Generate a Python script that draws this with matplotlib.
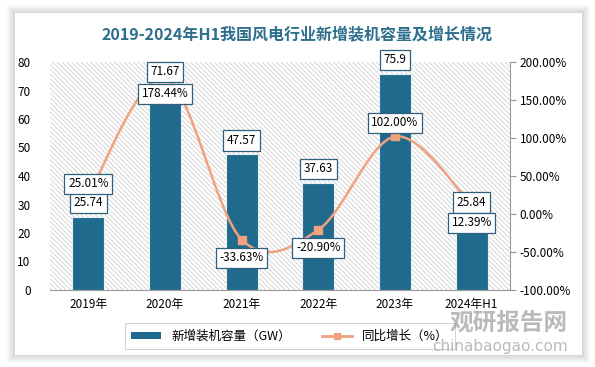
import numpy as np
import matplotlib.pyplot as plt
from matplotlib.patches import Rectangle, PathPatch
from matplotlib.path import Path
from matplotlib.lines import Line2D

#-------------------------------------------------------------------------------
# DATA
years    = ["2019年", "2020年", "2021年", "2022年", "2023年", "2024年H1"]
capacity = [25.74, 71.67, 47.57, 37.63, 75.9, 25.84]          # GW
growth   = [25.01, 178.44, -33.63, -20.90, 102.00, 12.39]     # %
cap_text = ["25.74", "71.67", "47.57", "37.63", "75.9", "25.84"]
#-------------------------------------------------------------------------------

plt.rcParams['font.family'] = ['Noto Sans CJK SC', 'DejaVu Sans']
plt.rcParams['hatch.color'] = '#cfcfcf'
plt.rcParams['hatch.linewidth'] = 0.6

bar_col  = '#1f6a8d'
line_col = '#f0a27f'
box_col  = '#2f5f7c'
title_col = '#2c6e8c'

fig = plt.figure(figsize=(5.95, 3.67), dpi=100)
fig.patch.set_facecolor('white')

# card with soft shadow
W, H = 595., 367.
for i in range(8, 0, -1):
    fig.patches.append(Rectangle(((15 - i) / W, (12 - i) / H), (567 + 2 * i) / W, (342 + 2 * i) / H,
                                 transform=fig.transFigure, facecolor='#000000',
                                 alpha=0.018, edgecolor='none', zorder=-10))
fig.patches.append(Rectangle((15 / W, 12 / H), 567 / W, 342 / H, transform=fig.transFigure,
                             facecolor='white', edgecolor='none', zorder=-9))

ax = fig.add_axes([50 / W, 77 / H, 460 / W, 228 / H])
ax2 = ax.twinx()

x = np.arange(len(years))
ax.add_patch(Rectangle((0, 0), 1, 1, transform=ax.transAxes, fill=False,
                       hatch='\\\\\\\\\\\\\\', edgecolor='#cfcfcf', linewidth=0, zorder=0))
ax.bar(x, capacity, width=0.42, color=bar_col, edgecolor='#e8eef2', linewidth=0.8, zorder=2)
ax.set_xlim(-0.5, len(years) - 0.5)
ax.set_ylim(0, 80)
ax.set_yticks(range(0, 81, 10))
ax.set_xticks(x)
ax.set_xticklabels(years, fontsize=8.5)
ax.tick_params(axis='x', length=0, pad=6)
ax.tick_params(axis='y', length=0, pad=14, labelsize=8.5)
for s in ['top', 'left', 'right']:
    ax.spines[s].set_visible(False)
ax.spines['bottom'].set_color('#9a9a9a')

# smooth line (Catmull-Rom -> bezier) for growth
ax2.set_ylim(-100, 200)
ax2.set_yticks(range(-100, 201, 50))
ax2.set_yticklabels(["%.2f%%" % v for v in range(-100, 201, 50)], fontsize=8.5)
ax2.tick_params(axis='y', length=4, color='#9a9a9a', pad=3)
for s in ['top', 'left', 'bottom']:
    ax2.spines[s].set_visible(False)
ax2.spines['right'].set_color('#9a9a9a')

pts = np.column_stack([x, growth]).astype(float)
verts = [pts[0]]
codes = [Path.MOVETO]
for i in range(len(pts) - 1):
    p0 = pts[max(i - 1, 0)]
    p1 = pts[i]
    p2 = pts[i + 1]
    p3 = pts[min(i + 2, len(pts) - 1)]
    verts += [p1 + (p2 - p0) / 6, p2 - (p3 - p1) / 6, p2]
    codes += [Path.CURVE4] * 3
ax2.add_patch(PathPatch(Path(verts, codes), facecolor='none', edgecolor=line_col,
                        linewidth=1.8, zorder=3))
ax2.plot(x, growth, linestyle='none', marker='s', markersize=5.5, color=line_col, zorder=4)

bbox = dict(boxstyle='square,pad=0.3', facecolor='white', edgecolor=box_col, linewidth=0.9)
for xi, v, t in zip(x, capacity, cap_text):
    ax2.annotate(t, (xi, v), xycoords=ax.transData, xytext=(0, 10), textcoords='offset points',
                 ha='center', va='center', fontsize=8.5, bbox=bbox, zorder=6)
pct_off = [8, -11, -13, -13, 10, -13]
for xi, g, dy in zip(x, growth, pct_off):
    ax2.annotate("%.2f%%" % g, (xi, g), xytext=(0, dy), textcoords='offset points',
                 ha='center', va='center', fontsize=8.5, bbox=bbox, zorder=6)

fig.text(0.5, 1 - 34 / H, "2019-2024年H1我国风电行业新增装机容量及增长情况",
         ha='center', va='center', fontsize=11.5, fontweight='bold', color=title_col)

# legend
handles = [Rectangle((0, 0), 1, 1, facecolor=bar_col, edgecolor='none'),
           Line2D([], [], color=line_col, marker='s', markersize=5, linewidth=2)]
leg = fig.legend(handles, ["新增装机容量（GW）", "同比增长（%）"], loc='center',
                 bbox_to_anchor=(290 / W, 1 - 336 / H), ncol=2, fontsize=9,
                 frameon=True, fancybox=False, edgecolor='#c8c8c8', handlelength=2.4,
                 handleheight=0.5, columnspacing=2.5, borderpad=0.5)
leg.get_frame().set_linewidth(0.8)

# watermark
fig.text(568 / W, 1 - 323 / H, "观研报告网", ha='right', va='center', fontsize=17,
         fontweight='bold', color='#8c8c8c', alpha=0.6, zorder=10)
fig.text(568 / W, 1 - 346 / H, "chinabaogao.com", ha='right', va='center', fontsize=11,
         color='#8c8c8c', alpha=0.6, family='DejaVu Sans', zorder=10)

plt.savefig("out.png", dpi=100)
